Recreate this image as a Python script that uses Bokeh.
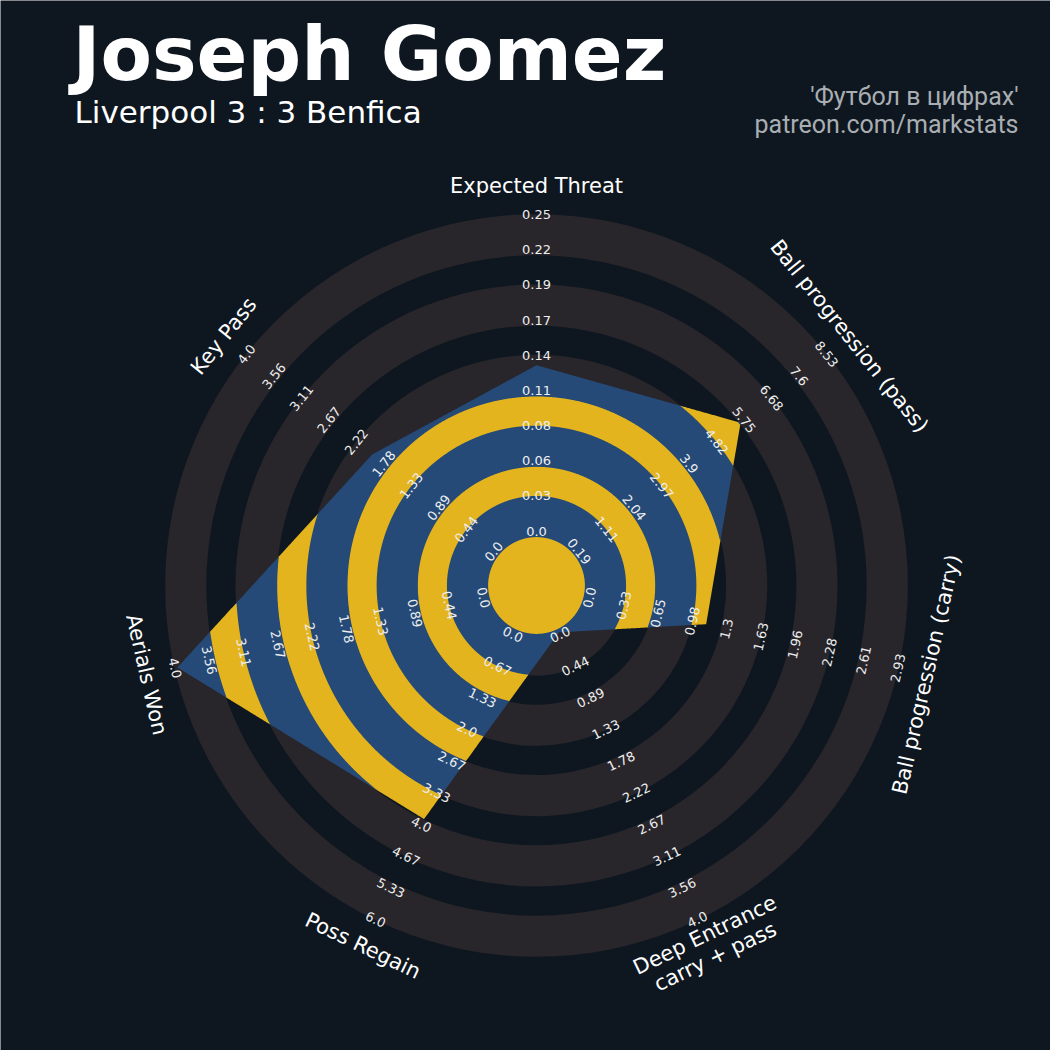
import numpy as np
from bokeh.plotting import figure
from bokeh.models import Range1d, ColumnDataSource
from bokeh.core.properties import value
from bokeh.embed import file_html
from bokeh.resources import INLINE

# ---- data -------------------------------------------------------------
params = ["Expected Threat", "Ball progression (pass)", "Ball progression (carry)",
          "Deep Entrance\ncarry + pass", "Poss Regain", "Aerials Won", "Key Pass"]
low = [0.0, 0.185, 0.0, 0.0, 0.0, 0.0, 0.0]
high = [0.25, 8.53, 2.93, 4.0, 6.0, 4.0, 4.0]
player_values = [0.133, 5.70, 1.13, 0.0, 3.93, 4.0, 2.0]
range_labels = [
    ["0.0", "0.03", "0.06", "0.08", "0.11", "0.14", "0.17", "0.19", "0.22", "0.25"],
    ["0.19", "1.11", "2.04", "2.97", "3.9", "4.82", "5.75", "6.68", "7.6", "8.53"],
    ["0.0", "0.33", "0.65", "0.98", "1.3", "1.63", "1.96", "2.28", "2.61", "2.93"],
    ["0.0", "0.44", "0.89", "1.33", "1.78", "2.22", "2.67", "3.11", "3.56", "4.0"],
    ["0.0", "0.67", "1.33", "2.0", "2.67", "3.33", "4.0", "4.67", "5.33", "6.0"],
    ["0.0", "0.44", "0.89", "1.33", "1.78", "2.22", "2.67", "3.11", "3.56", "4.0"],
    ["0.0", "0.44", "0.89", "1.33", "1.78", "2.22", "2.67", "3.11", "3.56", "4.0"],
]
title = "Joseph Gomez"
subtitle = "Liverpool 3 : 3 Benfica"
credits = ["'Футбол в цифрах'", "patreon.com/markstats"]

# ---- style ------------------------------------------------------------
BG = "#0e1720"
RING = "#28252b"
BLUE = "#254a78"
YELLOW = "#e3b41e"

# ---- geometry ---------------------------------------------------------
CX, CY = 536.0, 465.0          # radar centre
C0 = 52.0                      # radius of the minimum value
W = 35.15                      # width of one ring step
STEPS = 9
R_MAX = C0 + STEPS * W         # radius of the maximum value
EDGE = 3.0                     # outline thickness of the rings
LABEL_R = 400.0
TICK_SHIFT = 2.5               # range labels sit slightly outside their ring step
OVERLAP = 0.6                  # hides hairline seams between bands

n = len(params)
theta = np.pi / 2 - np.arange(n) * 2 * np.pi / n


def upright(t):
    rot = t - np.pi / 2
    rot = (rot + np.pi) % (2 * np.pi) - np.pi
    if rot > np.pi / 2:
        rot -= np.pi
    elif rot < -np.pi / 2:
        rot += np.pi
    return rot


ring_inner = [C0 + 2 * j * W - EDGE for j in range(5)]
ring_outer = [C0 + (2 * j + 1) * W + EDGE for j in range(5)]

radii = [C0 + (v - lo) / (hi - lo) * (R_MAX - C0)
         for v, lo, hi in zip(player_values, low, high)]
vx = np.array([r * np.cos(t) for r, t in zip(radii, theta)])
vy = np.array([r * np.sin(t) for r, t in zip(radii, theta)])

# polar outline of the radar polygon: rho(phi) sampled around the centre
SAMPLES = 300
phis, rhos = [], []
for i in range(n):
    ax_, ay_ = vx[i], vy[i]
    bx_, by_ = vx[(i + 1) % n] - ax_, vy[(i + 1) % n] - ay_
    cross_ab = ax_ * by_ - ay_ * bx_
    for s in np.linspace(0, 1, SAMPLES, endpoint=False):
        phi = theta[i] - s * 2 * np.pi / n
        dx, dy = np.cos(phi), np.sin(phi)
        phis.append(phi)
        rhos.append(cross_ab / (dx * by_ - dy * bx_))
phis = np.array(phis)
rhos = np.array(rhos)
cosp, sinp = np.cos(phis), np.sin(phis)


def band(a, b):
    """Part of the radar polygon lying between radii a and b (list of polygons)."""
    r_out = np.minimum(rhos, b)
    ext_x = list(CX + r_out * cosp)
    ext_y = list(CY + r_out * sinp)
    if a <= 0:
        return [[ext_x]], [[ext_y]]
    mask = rhos > a
    if not mask.any():
        return None
    if mask.all():
        hx = list(CX + a * cosp[::-1])
        hy = list(CY + a * sinp[::-1])
        return [[ext_x, hx]], [[ext_y, hy]]
    start = int(np.argmin(mask))
    idx = np.roll(np.arange(len(phis)), -start)
    m = mask[idx]
    polys_x, polys_y = [], []
    k = 0
    while k < len(m):
        if m[k]:
            e = k
            while e + 1 < len(m) and m[e + 1]:
                e += 1
            run = idx[k:e + 1]
            xs = list(CX + r_out[run] * cosp[run]) + list(CX + a * cosp[run[::-1]])
            ys = list(CY + r_out[run] * sinp[run]) + list(CY + a * sinp[run[::-1]])
            polys_x.append([xs])
            polys_y.append([ys])
            k = e + 1
        else:
            k += 1
    return polys_x, polys_y


# ---- figure -----------------------------------------------------------
p = figure(width=1050, height=1050, output_backend="svg", toolbar_location=None,
           x_range=Range1d(0, 1050), y_range=Range1d(0, 1050),
           x_axis_location=None, y_axis_location=None, min_border=0)
p.grid.visible = False
p.outline_line_color = None
p.background_fill_color = BG
p.border_fill_color = BG

# background rings
p.annulus(x=[CX] * 5, y=[CY] * 5, inner_radius=ring_inner, outer_radius=ring_outer,
          fill_color=RING, line_color=None)

# radar polygon: blue where it crosses a ring, yellow between rings
bands = [(0.0, ring_inner[0], YELLOW)]
for j in range(5):
    bands.append((ring_inner[j] - OVERLAP, ring_outer[j], BLUE))
    nxt = ring_inner[j + 1] if j < 4 else 1e9
    bands.append((ring_outer[j] - OVERLAP, nxt, YELLOW))
mp_xs, mp_ys, mp_c = [], [], []
for a, b, col in bands:
    res = band(a, b)
    if res is None:
        continue
    mp_xs.append(res[0])
    mp_ys.append(res[1])
    mp_c.append(col)
p.multi_polygons(xs="xs", ys="ys", fill_color="c", line_color=None,
                 source=ColumnDataSource(dict(xs=mp_xs, ys=mp_ys, c=mp_c)))

# range labels along each spoke
lx, ly, lt, la = [], [], [], []
for i in range(n):
    rot = upright(theta[i])
    for k, lab in enumerate(range_labels[i]):
        r = C0 + TICK_SHIFT + k * W
        lx.append(CX + r * np.cos(theta[i]))
        ly.append(CY + r * np.sin(theta[i]))
        lt.append(lab)
        la.append(rot)
p.text(x=lx, y=ly, text=lt, angle=la, text_align="center", text_baseline="middle",
       text_font=value("DejaVu Sans"), text_font_size="13px", text_color="#eeeeee")

# parameter names
px_ = [CX + LABEL_R * np.cos(t) for t in theta]
py_ = [CY + LABEL_R * np.sin(t) for t in theta]
p.text(x=px_, y=py_, text=params, angle=[upright(t) for t in theta],
       text_align="center", text_baseline="middle", text_font=value("DejaVu Sans"),
       text_font_size="21px", text_color="#ffffff", text_line_height=1.0)

# headings
p.text(x=[72], y=[997], text=[title], text_font=value("DejaVu Sans"),
       text_font_style="bold", text_font_size="75px", text_color="#ffffff",
       text_baseline="alphabetic")
p.text(x=[74], y=[939], text=[subtitle], text_font=value("DejaVu Sans"),
       text_font_size="31px", text_color="#ffffff", text_baseline="alphabetic")
p.text(x=[1018, 1018], y=[954, 926], text=credits, text_font=value("Roboto"),
       text_font_size="25px", text_color="#a9aeb2", text_align="right",
       text_baseline="alphabetic")

open("out.html", "w").write(file_html(p, INLINE))
